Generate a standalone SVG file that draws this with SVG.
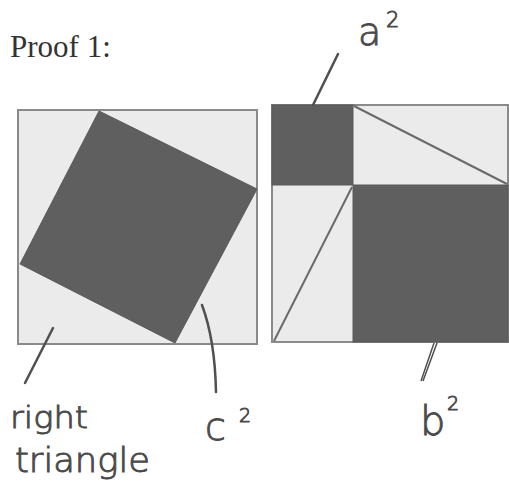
<svg xmlns="http://www.w3.org/2000/svg" width="509" height="485" viewBox="0 0 509 485">
<style>
.light{fill:#ebebeb;stroke:#8a8a8a;stroke-width:2}
.dark{fill:#5f5f5f;stroke:#5a5a5a;stroke-width:1}
.diag{stroke:#6a6a6a;stroke-width:2;fill:none}
.ptr{stroke:#505050;stroke-width:2.5;fill:none;stroke-linecap:round}
.hand{font-family:"DejaVu Sans","Liberation Sans",sans-serif;fill:#4a4a4a;stroke:#4a4a4a;stroke-width:0.9;font-weight:300}
.title{font-family:"Liberation Serif",serif;font-size:31px;fill:#333}
</style>
<rect width="509" height="485" fill="#ffffff"/>
<text class="title" x="10" y="57">Proof 1:</text>
<g id="left-figure">
<rect class="light" x="18" y="110" width="239" height="234"/>
<polygon class="dark" points="99,111 257,189 175,343 20,264"/>
</g>
<g id="right-figure">
<rect class="light" x="272" y="105" width="236" height="237"/>
<rect class="dark" x="272" y="105" width="81" height="80"/>
<rect class="dark" x="353" y="185" width="155" height="157"/>
<line class="diag" x1="354" y1="106" x2="507" y2="184"/>
<line class="diag" x1="274" y1="341" x2="352" y2="187"/>
</g>
<g id="connectors">
<line class="ptr" x1="313" y1="105" x2="338" y2="54"/>
<line class="ptr" x1="53" y1="328" x2="25" y2="383"/>
<path class="ptr" d="M202,305 Q215,340 216,392"/>
<path d="M434,343 L421,381 M437,343 L423,381" stroke="#505050" stroke-width="1.5" fill="none"/>
</g>
<g id="label-a2">
<text class="hand" x="358" y="45" font-size="38">a</text>
<text class="hand" x="386" y="27" font-size="21">2</text>
</g>
<g id="label-c2">
<text class="hand" x="205" y="440" font-size="38">c</text>
<text class="hand" x="239" y="422" font-size="19">2</text>
</g>
<g id="label-b2">
<text class="hand" x="420" y="435" font-size="40">b</text>
<text class="hand" x="447" y="410" font-size="19">2</text>
</g>
<g id="label-right-triangle">
<text class="hand" x="10" y="428" font-size="30" textLength="78" lengthAdjust="spacingAndGlyphs">right</text>
<text class="hand" x="15" y="472" font-size="33" textLength="135" lengthAdjust="spacingAndGlyphs">triangle</text>
</g>
</svg>
